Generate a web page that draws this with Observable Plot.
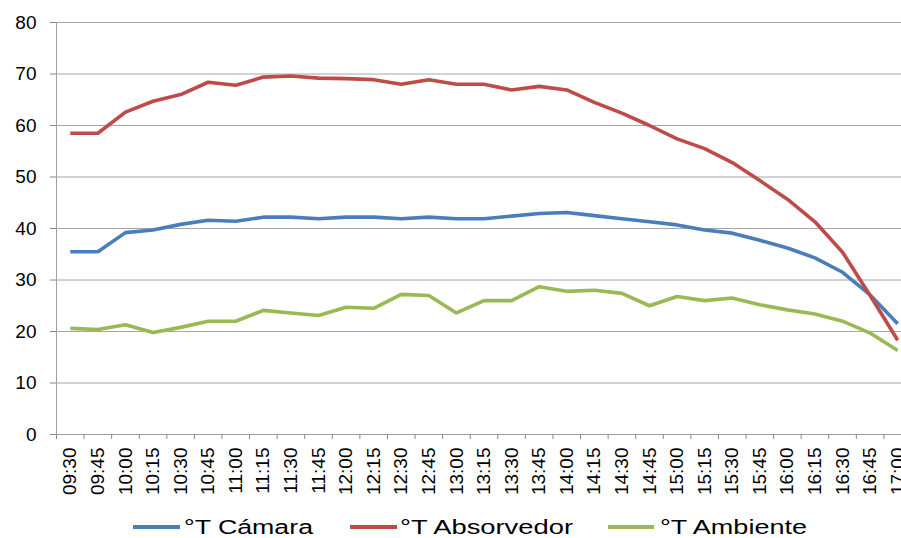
<!DOCTYPE html>
<html>
<head>
<meta charset="utf-8">
<script src="https://cdn.jsdelivr.net/npm/d3@7"></script>
<script src="https://cdn.jsdelivr.net/npm/@observablehq/plot@0.6"></script>
<style>
  body { margin: 0; background: #fff; font-family: "Liberation Sans", Arial, sans-serif; }
  #wrap { width: 901px; background: #fff; }
  #legend { display: block; }
</style>
</head>
<body>
<div id="wrap">
  <div id="chart"></div>
  <svg id="legend" width="901" height="33"></svg>
</div>
<script>
const times = ["09:30","09:45","10:00","10:15","10:30","10:45","11:00","11:15","11:30","11:45",
               "12:00","12:15","12:30","12:45","13:00","13:15","13:30","13:45","14:00","14:15",
               "14:30","14:45","15:00","15:15","15:30","15:45","16:00","16:15","16:30","16:45","17:00"];

const camara = [35.5, 35.5, 39.2, 39.7, 40.8, 41.6, 41.4, 42.2, 42.2, 41.9,
                42.2, 42.2, 41.9, 42.2, 41.9, 41.9, 42.4, 42.9, 43.1, 42.5,
                41.9, 41.3, 40.7, 39.7, 39.1, 37.7, 36.2, 34.3, 31.5, 27.1, 21.5];

const absorvedor = [58.5, 58.5, 62.6, 64.7, 66.0, 68.4, 67.8, 69.4, 69.6, 69.2,
                    69.1, 68.9, 68.0, 68.9, 68.0, 68.0, 66.9, 67.6, 66.9, 64.5,
                    62.4, 60.0, 57.4, 55.5, 52.8, 49.3, 45.7, 41.3, 35.4, 27.0, 18.3];

const ambiente = [20.6, 20.4, 21.3, 19.8, 20.8, 22.0, 22.0, 24.1, 23.6, 23.1,
                  24.7, 24.5, 27.2, 27.0, 23.6, 26.0, 26.0, 28.7, 27.8, 28.0,
                  27.4, 25.0, 26.8, 26.0, 26.5, 25.2, 24.2, 23.4, 22.0, 19.7, 16.3];

const seriesNames = ["°T Cámara", "°T Absorvedor", "°T Ambiente"];
const seriesColors = ["#4A7EBB", "#BE4B48", "#98B954"];
const yTicks = [0, 10, 20, 30, 40, 50, 60, 70, 80];

const seriesValues = [camara, absorvedor, ambiente];
const data = seriesValues.flatMap((vals, s) =>
  vals.map((v, i) => ({ i, v, series: seriesNames[s] })));

const idx = d3.range(times.length);
const bounds = d3.range(times.length + 1).map(i => i - 0.5);

const chart = Plot.plot({
  width: 901,
  height: 505,
  marginTop: 22,
  marginBottom: 71,
  marginLeft: 56,
  marginRight: 0,
  style: { fontFamily: "'Liberation Sans', Arial, sans-serif", fontSize: "19px", color: "#000", background: "#fff", overflow: "hidden" },
  x: { type: "linear", domain: [-0.5, times.length - 0.5], range: [56, 911] },
  y: { domain: [0, 80] },
  color: { domain: seriesNames, range: seriesColors },
  marks: [
    Plot.ruleY(yTicks.filter(t => t > 0), { stroke: "#A6A6A6", strokeWidth: 1 }),
    Plot.ruleY([0], { stroke: "#A0A0A0", strokeWidth: 1 }),
    Plot.ruleX([-0.5], { stroke: "#A0A0A0", strokeWidth: 1 }),
    Plot.axisY({ ticks: yTicks, tickSize: 6, tickPadding: 14, stroke: "#888", fill: "#000", label: null }),
    Plot.axisX({ ticks: bounds, tickSize: 5, tickFormat: () => "", stroke: "#888", label: null }),
    Plot.axisX({ ticks: idx, tickSize: 0, tickPadding: 13, tickRotate: -90, tickFormat: i => times[i], fill: "#000", label: null }),
    Plot.line(data, { x: "i", y: "v", z: "series", stroke: "series", strokeWidth: 3.6, strokeLinejoin: "round", strokeLinecap: "butt" })
  ]
});
document.getElementById("chart").appendChild(chart);

// Legend (separate SVG below the chart)
const legendPos = [
  { line: [133, 180], text: 184, len: 129 },
  { line: [350, 397], text: 400, len: 173 },
  { line: [608, 654], text: 660, len: 147 }
];
const lg = d3.select("#legend");
seriesNames.forEach((name, k) => {
  const p = legendPos[k];
  lg.append("line")
    .attr("x1", p.line[0]).attr("x2", p.line[1])
    .attr("y1", 22).attr("y2", 22)
    .attr("stroke", seriesColors[k]).attr("stroke-width", 4);
  lg.append("text")
    .attr("x", p.text).attr("y", 28.5)
    .attr("font-family", "'Liberation Sans', Arial, sans-serif")
    .attr("font-size", 20)
    .attr("fill", "#000")
    .attr("textLength", p.len)
    .attr("lengthAdjust", "spacingAndGlyphs")
    .text(name);
});
</script>
</body>
</html>
